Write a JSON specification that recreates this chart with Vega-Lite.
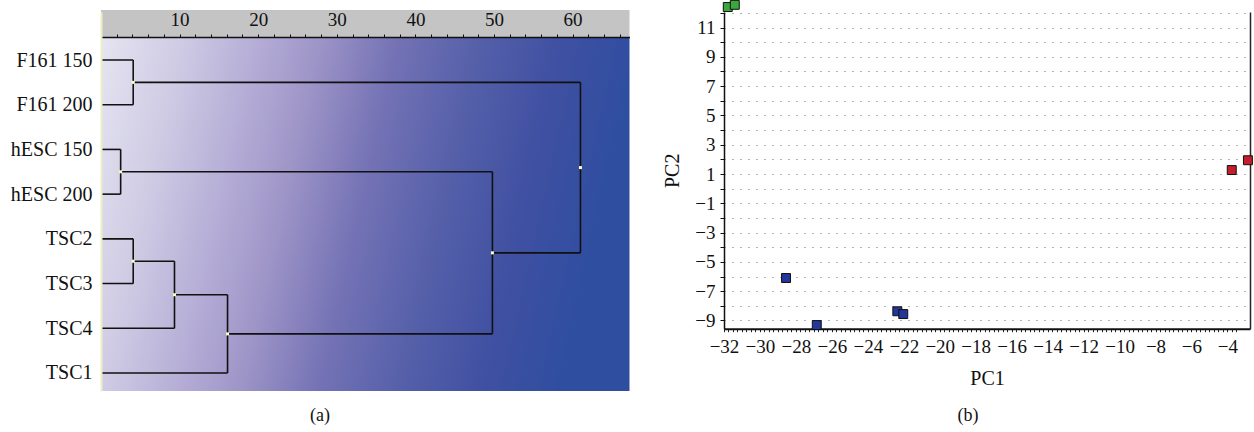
{
  "$schema": "https://vega.github.io/schema/vega-lite/v6.json",
  "padding": {"left": 10, "top": -2, "right": 0, "bottom": 0},
  "background": "white",
  "config": {
    "view": {"stroke": null},
    "font": "Liberation Serif",
    "text": {"font": "Liberation Serif"},
    "axis": {"labelFont": "Liberation Serif", "titleFont": "Liberation Serif", "labelColor": "#111", "titleColor": "#111", "titleFontWeight": "normal", "labelOverlap": false, "labelFlush": false},
    "title": {"font": "Liberation Serif", "fontWeight": "normal", "fontSize": 18, "color": "#111"}
  },
  "bounds": "flush",
  "spacing": 94,
  "hconcat": [
    {
      "width": 528.5,
      "height": 379,
      "title": {"text": "(a)", "orient": "bottom", "anchor": "middle", "frame": "bounds", "offset": 16, "font": "Liberation Serif"},
      "layer": [
        {
          "data": {"values": [{"band": "axis"}]},
          "mark": {"type": "rect", "color": "#c4c4c4", "clip": false},
          "encoding": {
            "x": {"datum": 0, "type": "quantitative",
              "scale": {"domain": [0, 67.24], "nice": false, "zero": false},
              "axis": {"orient": "top", "offset": -25, "zindex": 2, "tickCount": 500, "values": [2,4,6,8,10,12,14,16,18,20,22,24,26,28,30,32,34,36,38,40,42,44,46,48,50,52,54,56,58,60,62,64,66],
                "labelExpr": "datum.value % 10 == 0 ? format(datum.value, 'd') : ''",
                "tickSize": 3, "tickColor": "#111", "domainColor": "#111", "domainWidth": 1.5,
                "labelFont": "Liberation Serif", "labelFontSize": 19, "labelPadding": 5, "labelOverlap": false, "labelFlush": false, "grid": false, "title": null}},
            "x2": {"datum": 67.24},
            "y": {"datum": -1.118, "type": "quantitative",
              "scale": {"domain": [-1.0736, 7.4026], "nice": false, "zero": false, "reverse": true},
              "axis": {"orient": "left", "zindex": 2, "tickCount": 500, "values": [0,1,2,3,4,5,6,7],
                "labelExpr": "['F161 150','F161 200','hESC 150','hESC 200','TSC2','TSC3','TSC4','TSC1'][datum.value]",
                "ticks": false, "domainColor": "#eeeec4", "domainWidth": 2, "labelFont": "Liberation Serif", "labelFontSize": 20, "labelPadding": 9,
                "labelOverlap": false, "grid": false, "title": null}},
            "y2": {"datum": -0.514}
          }
        },
        {
          "data": {"values": [{"band": "gradient"}]},
          "mark": {"type": "rect", "clip": false,
            "fill": {"gradient": "linear", "x1": 0, "y1": 0, "x2": 1, "y2": 0.15,
              "stops": [
                {"offset": 0, "color": "#e6e5f1"},
                {"offset": 0.06, "color": "#dcdaec"},
                {"offset": 0.15, "color": "#cfcbe4"},
                {"offset": 0.3, "color": "#b3abd5"},
                {"offset": 0.4, "color": "#9f96c8"},
                {"offset": 0.55, "color": "#7472b5"},
                {"offset": 0.7, "color": "#5560a9"},
                {"offset": 0.85, "color": "#4050a2"},
                {"offset": 1, "color": "#2f4ea0"}
              ]}},
          "encoding": {
            "x": {"datum": 0, "type": "quantitative"},
            "x2": {"datum": 67.24},
            "y": {"datum": -0.49, "type": "quantitative"},
            "y2": {"datum": 7.4026}
          }
        },
        {
          "data": {"values": [
            {"x": 0, "x2": 4.1, "y": 0, "y2": 0},
            {"x": 0, "x2": 4.1, "y": 1, "y2": 1},
            {"x": 4.1, "x2": 4.1, "y": 0, "y2": 1},
            {"x": 4.1, "x2": 61.0, "y": 0.5, "y2": 0.5},
            {"x": 0, "x2": 2.5, "y": 2, "y2": 2},
            {"x": 0, "x2": 2.5, "y": 3, "y2": 3},
            {"x": 2.5, "x2": 2.5, "y": 2, "y2": 3},
            {"x": 2.5, "x2": 49.8, "y": 2.5, "y2": 2.5},
            {"x": 0, "x2": 4.1, "y": 4, "y2": 4},
            {"x": 0, "x2": 4.1, "y": 5, "y2": 5},
            {"x": 4.1, "x2": 4.1, "y": 4, "y2": 5},
            {"x": 4.1, "x2": 9.35, "y": 4.5, "y2": 4.5},
            {"x": 0, "x2": 9.35, "y": 6, "y2": 6},
            {"x": 9.35, "x2": 9.35, "y": 4.5, "y2": 6},
            {"x": 9.35, "x2": 16.1, "y": 5.25, "y2": 5.25},
            {"x": 0, "x2": 16.1, "y": 7, "y2": 7},
            {"x": 16.1, "x2": 16.1, "y": 5.25, "y2": 7},
            {"x": 16.1, "x2": 49.8, "y": 6.125, "y2": 6.125},
            {"x": 49.8, "x2": 49.8, "y": 2.5, "y2": 6.125},
            {"x": 49.8, "x2": 61.0, "y": 4.3125, "y2": 4.3125},
            {"x": 61.0, "x2": 61.0, "y": 0.5, "y2": 4.3125}
          ]},
          "mark": {"type": "rule", "color": "#111", "strokeWidth": 1.6},
          "encoding": {
            "x": {"field": "x", "type": "quantitative"},
            "x2": {"field": "x2"},
            "y": {"field": "y", "type": "quantitative"},
            "y2": {"field": "y2"}
          }
        },
        {
          "data": {"values": [
            {"nx": 4.1, "ny": 0.5},
            {"nx": 2.5, "ny": 2.5},
            {"nx": 4.1, "ny": 4.5},
            {"nx": 9.35, "ny": 5.25},
            {"nx": 16.1, "ny": 6.125},
            {"nx": 49.8, "ny": 4.3125},
            {"nx": 61.0, "ny": 2.40625}
          ]},
          "mark": {"type": "square", "size": 9, "color": "#ffffc4", "opacity": 1, "filled": true},
          "encoding": {
            "x": {"field": "nx", "type": "quantitative"},
            "y": {"field": "ny", "type": "quantitative"}
          }
        }
      ]
    },
    {
      "width": 526,
      "height": 316.7,
      "title": {"text": "(b)", "orient": "bottom", "anchor": "middle", "frame": "group", "offset": 18, "dx": -19, "font": "Liberation Serif"},
      "data": {"values": [
        {"pc1": -31.79, "pc2": 12.4, "group": "green"},
        {"pc1": -31.4, "pc2": 12.55, "group": "green"},
        {"pc1": -3.76, "pc2": 1.27, "group": "red"},
        {"pc1": -2.86, "pc2": 1.94, "group": "red"},
        {"pc1": -28.55, "pc2": -6.1, "group": "blue"},
        {"pc1": -26.84, "pc2": -9.31, "group": "blue"},
        {"pc1": -22.36, "pc2": -8.37, "group": "blue"},
        {"pc1": -22.03, "pc2": -8.56, "group": "blue"}
      ]},
      "layer": [
        {
          "mark": {"type": "square", "size": 80, "stroke": "#111", "strokeWidth": 1, "opacity": 1, "filled": true, "clip": false},
          "encoding": {
            "x": {"field": "pc1", "type": "quantitative",
              "scale": {"domain": [-32, -2.745], "nice": false, "zero": false},
              "axis": {"orient": "bottom", "tickCount": 500, "values": [-32,-31.75,-31.5,-31.25,-31,-30.75,-30.5,-30.25,-30,-29.75,-29.5,-29.25,-29,-28.75,-28.5,-28.25,-28,-27.75,-27.5,-27.25,-27,-26.75,-26.5,-26.25,-26,-25.75,-25.5,-25.25,-25,-24.75,-24.5,-24.25,-24,-23.75,-23.5,-23.25,-23,-22.75,-22.5,-22.25,-22,-21.75,-21.5,-21.25,-21,-20.75,-20.5,-20.25,-20,-19.75,-19.5,-19.25,-19,-18.75,-18.5,-18.25,-18,-17.75,-17.5,-17.25,-17,-16.75,-16.5,-16.25,-16,-15.75,-15.5,-15.25,-15,-14.75,-14.5,-14.25,-14,-13.75,-13.5,-13.25,-13,-12.75,-12.5,-12.25,-12,-11.75,-11.5,-11.25,-11,-10.75,-10.5,-10.25,-10,-9.75,-9.5,-9.25,-9,-8.75,-8.5,-8.25,-8,-7.75,-7.5,-7.25,-7,-6.75,-6.5,-6.25,-6,-5.75,-5.5,-5.25,-5,-4.75,-4.5,-4.25,-4,-3.75,-3.5],
                "labelExpr": "datum.value % 2 == 0 ? format(datum.value, 'd') : ''",
                "tickSize": 3, "tickColor": "#222", "domainColor": "#111", "domainWidth": 2,
                "labelFont": "Liberation Serif", "labelFontSize": 19, "labelPadding": 6, "labelOverlap": false, "labelFlush": false, "grid": false,
                "title": "PC1", "titleFont": "Liberation Serif", "titleFontSize": 20, "titlePadding": 12}},
            "y": {"field": "pc2", "type": "quantitative",
              "scale": {"domain": [-9.56, 12.06], "nice": false, "zero": false},
              "axis": {"orient": "left", "tickCount": 500, "values": [-9,-8,-7,-6,-5,-4,-3,-2,-1,0,1,2,3,4,5,6,7,8,9,10,11,12],
                "labelExpr": "datum.value % 2 != 0 ? format(datum.value, 'd') : ''",
                "tickSize": 4, "tickColor": "#111", "domainColor": "#111", "domainWidth": 1.5,
                "labelFont": "Liberation Serif", "labelFontSize": 19, "labelPadding": 5, "labelOverlap": false, "labelFlush": false,
                "grid": true, "gridDash": [1, 7], "gridColor": "#333", "gridOpacity": 0.75, "gridWidth": 1,
                "title": "PC2", "titleFont": "Liberation Serif", "titleFontSize": 20, "titlePadding": 12}},
            "fill": {"field": "group", "type": "nominal",
              "scale": {"domain": ["green", "red", "blue"], "range": ["#3aa83a", "#c41e2c", "#23369a"]},
              "legend": null}
          }
        },
        {
          "mark": {"type": "point", "opacity": 0},
          "encoding": {
            "y": {"field": "pc2", "type": "quantitative",
              "axis": {"orient": "right", "labels": false, "ticks": false, "grid": false, "domainColor": "#222", "domainWidth": 1.5, "title": null}}
          }
        }
      ],
      "resolve": {"axis": {"y": "independent"}}
    }
  ]
}
